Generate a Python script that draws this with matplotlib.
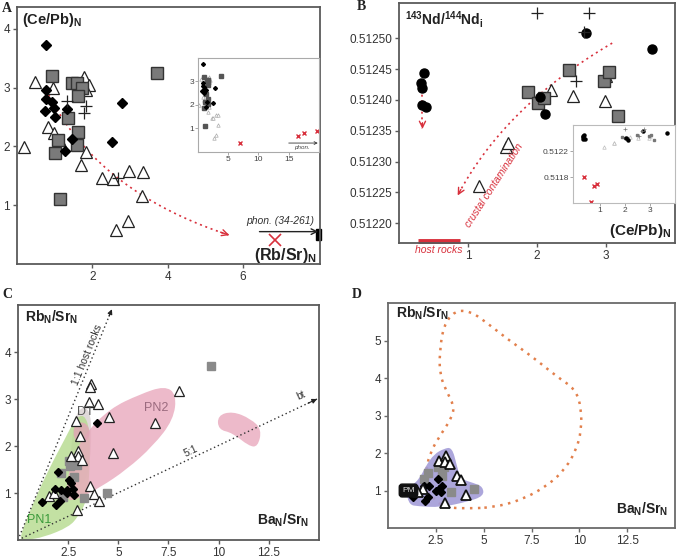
import matplotlib
matplotlib.use('Agg')
import matplotlib.pyplot as plt
import numpy as np
from matplotlib.patches import PathPatch
from matplotlib.path import Path
import matplotlib.transforms as mtrans

plt.rcParams['font.family'] = ['Liberation Sans', 'DejaVu Sans']
plt.rcParams['mathtext.fontset'] = 'custom'
plt.rcParams['mathtext.rm'] = 'Liberation Sans'
plt.rcParams['mathtext.bf'] = 'Liberation Sans:bold'
plt.rcParams['mathtext.it'] = 'Liberation Sans:italic'

RED = '#d8303c'

# ---------------- Panel A data: (Rb/Sr)N vs (Ce/Pb)N ----------------
A_dia_x = [0.78, 0.78, 0.78, 0.92, 0.74, 0.98, 1.00, 1.32, 1.47, 1.27, 2.80, 2.52]
A_dia_y = [3.72, 2.95, 2.80, 2.75, 2.60, 2.65, 2.50, 2.64, 2.13, 1.92, 2.74, 2.07]
A_sq_x = [0.92, 1.45, 1.60, 1.72, 1.62, 1.35, 1.63, 1.09, 1.60, 1.00, 1.13, 3.73]
A_sq_y = [3.20, 3.08, 3.08, 2.99, 2.85, 2.48, 2.24, 2.11, 2.03, 1.89, 1.10, 3.25]
A_tri_x = [0.47, 0.18, 0.95, 0.83, 0.98, 1.11, 1.16, 1.78, 1.91, 1.82, 1.84, 1.69,
           2.25, 2.55, 2.98, 3.35, 3.32, 2.64, 2.95]
A_tri_y = [3.09, 1.99, 2.99, 2.33, 2.22, 2.11, 2.05, 3.18, 3.05, 2.96, 1.90, 1.68,
           1.46, 1.44, 1.58, 1.57, 1.16, 0.58, 0.73]
A_plus_x = [1.33, 1.84, 1.78, 2.69]
A_plus_y = [2.77, 2.68, 2.57, 1.46]
A_host_x = [6.84]
A_host_y = [0.41]
A_inset_host_x = [6.9, 16.6, 17.6, 19.6]
A_inset_host_y = [0.38, 0.67, 0.81, 0.90]
A_curve = [(0.84, 2.88), (2.16, 1.215), (5.64, 0.49)]   # start, control, end

# ---------------- Panel B data: (Ce/Pb)N vs 143Nd/144Nd_i ----------------
B_dia_x = [0.36, 0.32, 0.34, 0.33, 0.39, 2.05, 2.11, 2.71, 3.67]
B_dia_y = [0.512443, 0.512427, 0.512419, 0.512391, 0.512388, 0.512404, 0.512377,
           0.512509, 0.512482]
B_sq_x = [1.87, 2.02, 2.10, 2.47, 2.97, 3.05, 3.18]
B_sq_y = [0.512412, 0.512395, 0.512403, 0.512449, 0.512430, 0.512446, 0.512374]
B_tri_x = [1.16, 1.55, 1.58, 2.20, 2.52, 2.98, 3.00]
B_tri_y = [0.512260, 0.512323, 0.512330, 0.512416, 0.512407, 0.512398, 0.512439]
B_plus_x = [2.00, 2.76, 2.57, 2.68]
B_plus_y = [0.512541, 0.512541, 0.512430, 0.512510]
B_inset_host_x = [0.35, 0.77, 0.90, 0.63]
B_inset_host_y = [0.51180, 0.51166, 0.51170, 0.51142]
B_curve = [(3.09, 0.512492), (1.53, 0.5123895), (0.85, 0.512245)]
B_drop = [(0.34, 0.512418), (0.34, 0.512353)]
B_host_range = [0.27, 0.88]

# ---------------- Panel C data: BaN/SrN vs RbN/SrN ----------------
C_dia_x = [3.93, 1.99, 1.22, 1.87, 2.15, 2.45, 2.53, 2.65, 2.75, 2.81, 1.92, 2.09, 2.45]
C_dia_y = [2.49, 1.44, 0.80, 1.09, 1.07, 1.00, 1.28, 1.21, 1.09, 0.96, 0.75, 0.82, 1.06]
C_sq_x = [9.62, 2.53, 2.61, 2.94, 2.81, 2.12, 2.25, 3.31, 4.43]
C_sq_y = [3.71, 1.68, 1.57, 1.60, 1.34, 1.43, 0.91, 0.89, 1.01]
C_tri_x = [3.64, 3.60, 3.52, 3.97, 2.91, 4.56, 3.08, 2.98, 2.98, 2.65, 3.19, 4.72,
           6.82, 8.02, 3.57, 3.80, 4.02, 2.94, 1.54, 1.79]
C_tri_y = [3.33, 3.26, 2.94, 2.90, 2.53, 2.61, 2.22, 1.89, 1.78, 1.78, 1.71, 1.85,
           2.49, 3.17, 1.14, 0.98, 0.82, 0.64, 0.93, 1.00]
C_PN1 = [(0.02, 0.0), (0.75, 0.78), (1.55, 1.52), (2.40, 2.20), (2.85, 2.58), (3.30, 2.68),
         (3.58, 2.35), (3.58, 1.55), (3.45, 0.85), (3.00, 0.50), (2.55, 0.28), (1.30, 0.06),
         (0.40, 0.0)]
C_DT = [(2.90, 2.70), (3.30, 2.85), (3.62, 2.70), (3.66, 2.21), (3.60, 1.71), (3.40, 1.28),
        (2.86, 1.07), (2.53, 1.21), (2.62, 1.85), (2.75, 2.35)]
C_PN2 = [(2.37, 0.85), (2.55, 1.57), (3.30, 2.25), (4.59, 2.80), (6.07, 3.10), (7.31, 3.28),
         (7.90, 3.10), (7.75, 2.56), (6.73, 2.00), (5.42, 1.50), (4.10, 1.12), (2.90, 0.85)]
C_blob = [(9.95, 2.65), (10.69, 2.74), (11.6, 2.58), (12.15, 2.35), (11.95, 1.98),
          (11.5, 2.0), (10.69, 2.28), (9.98, 2.35)]
C_small = [(2.72, 2.29), (2.90, 2.50), (3.40, 2.50), (3.62, 2.29), (3.40, 2.08), (2.90, 2.08)]
C_line11 = [(0.0, 0.0), (4.68, 4.91)]
C_line51 = [(0.0, 0.0), (14.9, 3.0)]

# ---------------- Panel D data ----------------
D_tri_x = [2.98, 2.67, 3.02, 2.97, 3.22, 3.62, 3.79, 4.05, 1.81, 1.55]
D_tri_y = [0.67, 1.80, 1.93, 1.77, 1.71, 1.40, 1.27, 0.87, 1.04, 0.96]
D_sq_x = [2.10, 2.59, 2.93, 2.84, 3.31, 4.48, 1.90]
D_sq_y = [1.47, 1.62, 1.62, 1.40, 0.96, 1.04, 1.31]
D_dia_x = [1.29, 1.90, 2.16, 2.59, 2.67, 2.50, 2.84, 2.76, 2.07, 1.93]
D_dia_y = [0.82, 1.13, 1.12, 1.31, 1.04, 1.00, 1.13, 0.96, 0.82, 0.73]
D_field = [(4.14, 0.52), (2.93, 0.55), (2.20, 0.85), (1.95, 1.40), (2.16, 1.98), (2.76, 2.50),
           (3.35, 2.95), (3.45, 3.26), (3.05, 3.65), (2.70, 4.10), (2.70, 4.70), (2.90, 5.40),
           (3.50, 5.80), (4.30, 5.78), (5.10, 5.50), (6.21, 5.05), (7.59, 4.55), (8.79, 4.05),
           (9.80, 3.70), (10.10, 3.20), (10.10, 2.60), (9.85, 2.10), (9.30, 1.60), (8.40, 1.15),
           (7.00, 0.75), (5.52, 0.55)]
D_purple = [(0.95, 0.95), (1.12, 0.62), (1.55, 0.58), (2.76, 0.55), (4.14, 0.70), (5.00, 0.85),
            (4.96, 1.10), (4.48, 1.20), (3.79, 1.31), (3.60, 1.66), (3.35, 2.15), (2.93, 2.12),
            (2.41, 1.97), (1.98, 1.66), (1.64, 1.31), (1.21, 1.12)]
D_PM = (1.07, 1.0)


def style(ax, lc='#5a5a5a'):
    for s in ax.spines.values():
        s.set_color(lc)
        s.set_linewidth(1.3)
    ax.tick_params(direction='out', length=3, width=1, color=lc, labelsize=8.5,
                   labelcolor='#333333', pad=2)


def smooth_path(pts):
    pts = np.asarray(pts, float)
    mids = (pts + np.roll(pts, -1, axis=0)) / 2
    verts = [mids[-1]]
    codes = [Path.MOVETO]
    for i in range(len(pts)):
        verts += [pts[i], mids[i]]
        codes += [Path.CURVE3, Path.CURVE3]
    return Path(verts, codes)


def bez(p, n=60):
    t = np.linspace(0, 1, n)[:, None]
    p0, c, p2 = (np.array(q) for q in p)
    return (1 - t) ** 2 * p0 + 2 * t * (1 - t) * c + t ** 2 * p2


def red_arrow(ax, pts):
    pts = np.asarray(pts)
    ax.plot(pts[:, 0], pts[:, 1], ls=(0, (1.2, 2.2)), color=RED, lw=1.2)
    ax.annotate('', xy=pts[-1], xytext=pts[-3],
                arrowprops=dict(arrowstyle='->', color=RED, lw=1.0, mutation_scale=11,
                                shrinkA=0, shrinkB=0))


fig = plt.figure(figsize=(6.78, 5.6), dpi=100)

# =================== Panel A ===================
axA = fig.add_axes([0.0251, 0.5286, 0.447, 0.459])
style(axA)
axA.set_xlim(0, 8.05)
axA.set_ylim(0, 4.37)
axA.set_xticks([2, 4, 6])
axA.set_yticks([1, 2, 3, 4])
red_arrow(axA, bez(A_curve))
axA.plot(A_tri_x, A_tri_y, '^', ms=8, mfc='white', mec='#222222', mew=0.9, ls='none')
axA.plot(A_sq_x, A_sq_y, 's', ms=8.5, mfc='#7a7a7a', mec='#333333', mew=1.0, ls='none')
axA.plot(A_dia_x, A_dia_y, 'D', ms=5.5, mfc='black', mec='black', ls='none')
axA.plot(A_plus_x, A_plus_y, '+', ms=9, mew=0.9, color='#222222', ls='none')
axA.plot(A_host_x, A_host_y, 'x', ms=9, mew=1.2, color=RED, ls='none')
axA.annotate('', xy=(8.0, 0.55), xytext=(6.44, 0.55),
             arrowprops=dict(arrowstyle='->', color='#222222', lw=1.0, shrinkA=0, shrinkB=0))
axA.add_patch(plt.Rectangle((7.93, 0.41), 0.14, 0.19, color='black', clip_on=False))
axA.text(7.9, 0.73, 'phon. (34-261)', style='italic', fontsize=7.5, ha='right',
         va='center', color='#333333')
axA.text(7.95, 0.15, r'(Rb/Sr)$_\mathbf{N}$', fontsize=11.5, fontweight='bold', ha='right',
         va='center', color='#222222')
axA.text(0.13, 4.14, r'(Ce/Pb)$_\mathbf{N}$', fontsize=10.5, fontweight='bold', ha='left',
         va='center', color='#222222')

# inset A
axAi = fig.add_axes([0.292, 0.7286, 0.1785, 0.168])
for s in axAi.spines.values():
    s.set_color('#aaaaaa')
    s.set_linewidth(0.8)
axAi.tick_params(direction='out', length=2, width=0.6, color='#999999', labelsize=6,
                 labelcolor='#444444', pad=1)
axAi.set_xlim(0, 20)
axAi.set_ylim(0, 4)
axAi.set_xticks([5, 10, 15])
axAi.set_yticks([1, 2, 3])
axAi.plot(A_tri_x, A_tri_y, '^', ms=2.5, mfc='white', mec='#aaaaaa', mew=0.5, ls='none')
axAi.plot(A_sq_x, A_sq_y, 's', ms=2.2, mfc='#555555', mec='#555555', ls='none')
axAi.plot(A_dia_x, A_dia_y, 'D', ms=2, mfc='black', mec='black', ls='none')
axAi.plot(A_inset_host_x, A_inset_host_y, 'x', ms=3.5, mew=1.0, color=RED, ls='none')
axAi.annotate('', xy=(19.8, 0.38), xytext=(15.0, 0.38),
              arrowprops=dict(arrowstyle='->', color='#333333', lw=0.6, mutation_scale=5,
                              shrinkA=0, shrinkB=0))
axAi.text(17.2, 0.2, 'phon.', style='italic', fontsize=4.5, ha='center', va='center',
          color='#444444')

# =================== Panel B ===================
axB = fig.add_axes([0.5885, 0.566, 0.407, 0.4286])
style(axB)
axB.set_xlim(0, 4)
axB.set_ylim(0.512168, 0.512557)
axB.set_xticks([1, 2, 3])
axB.set_yticks([0.51220, 0.51225, 0.51230, 0.51235, 0.51240, 0.51245, 0.51250])
axB.set_yticklabels(['0.51220', '0.51225', '0.51230', '0.51235', '0.51240', '0.51245',
                     '0.51250'])
red_arrow(axB, bez(B_curve))
dx = np.array(B_drop)
axB.plot(dx[:, 0], dx[:, 1], ls=(0, (1.2, 2.2)), color=RED, lw=1.2)
axB.annotate('', xy=B_drop[1], xytext=(B_drop[1][0], B_drop[1][1] + 0.00001),
             arrowprops=dict(arrowstyle='->', color=RED, lw=1.0, mutation_scale=11,
                             shrinkA=0, shrinkB=0))
axB.plot(B_tri_x, B_tri_y, '^', ms=8, mfc='white', mec='#222222', mew=0.9, ls='none')
axB.plot(B_sq_x, B_sq_y, 's', ms=8.5, mfc='#7a7a7a', mec='#333333', mew=1.0, ls='none')
axB.plot(B_dia_x, B_dia_y, 'o', ms=6.5, mfc='black', mec='black', ls='none')
axB.plot(B_plus_x, B_plus_y, '+', ms=9, mew=0.9, color='#222222', ls='none', clip_on=False)
tB = mtrans.blended_transform_factory(axB.transData, axB.transAxes)
axB.plot(B_host_range, [0.008, 0.008], color=RED, lw=3.5, transform=tB, clip_on=False,
         solid_capstyle='butt')
axB.text(np.mean(B_host_range), -0.028, 'host rocks', transform=tB, color=RED,
         style='italic', fontsize=7.5, ha='center', va='center')
axB.text(1.38, 0.512262, 'crustal contamination', color=RED, style='italic', fontsize=7.5,
         rotation=57, ha='center', va='center')
axB.text(0.08, 0.51253, r'$^{\mathbf{143}}$Nd/$^{\mathbf{144}}$Nd$_\mathbf{i}$',
         fontsize=10, fontweight='bold', ha='left', va='center', color='#222222')
axB.text(3.95, 0.512187, r'(Ce/Pb)$_\mathbf{N}$', fontsize=11, fontweight='bold',
         ha='right', va='center', color='#222222')

# inset B
axBi = fig.add_axes([0.845, 0.6375, 0.1504, 0.139])
for s in axBi.spines.values():
    s.set_color('#bbbbbb')
    s.set_linewidth(0.8)
axBi.tick_params(direction='out', length=2, width=0.6, color='#999999', labelsize=6,
                 labelcolor='#444444', pad=1)
axBi.set_xlim(-0.08, 4)
axBi.set_ylim(0.5114, 0.5126)
axBi.set_xticks([1, 2, 3])
axBi.set_yticks([0.5118, 0.5122])
axBi.set_yticklabels(['0.5118', '0.5122'])
axBi.plot(B_tri_x, B_tri_y, '^', ms=2.5, mfc='white', mec='#bbbbbb', mew=0.5, ls='none')
axBi.plot(B_sq_x, B_sq_y, 's', ms=2, mfc='#777777', mec='#777777', ls='none')
axBi.plot(B_dia_x, B_dia_y, 'o', ms=2.2, mfc='black', mec='black', ls='none')
axBi.plot(B_plus_x, B_plus_y, '+', ms=3, mew=0.5, color='#777777', ls='none')
axBi.plot(B_inset_host_x, B_inset_host_y, 'x', ms=3, mew=1.0, color=RED, ls='none')

# =================== Panel C ===================
axC = fig.add_axes([0.0265, 0.0357, 0.444, 0.4196])
style(axC)
axC.set_xlim(0, 15)
axC.set_ylim(0, 5)
axC.set_xticks([2.5, 5, 7.5, 10, 12.5])
axC.set_xticklabels(['2.5', '5', '7.5', '10', '12.5'])
axC.set_yticks([1, 2, 3, 4])
axC.add_patch(PathPatch(smooth_path(C_DT), fc='#ddd6d6', ec='none', alpha=0.9))
axC.add_patch(PathPatch(smooth_path(C_PN1), fc='#b9dc93', ec='none', alpha=0.85))
axC.add_patch(PathPatch(smooth_path(C_PN2), fc='#e9a9bd', ec='none', alpha=0.8))
axC.add_patch(PathPatch(smooth_path(C_blob), fc='#e9a9bd', ec='none', alpha=0.8))
axC.add_patch(PathPatch(smooth_path(C_small), fc='#e2a3b5', ec='none', alpha=0.8))
for ln in (C_line11, C_line51):
    ln = np.array(ln)
    axC.plot(ln[:, 0], ln[:, 1], ls=(0, (1, 2)), color='#333333', lw=1.0)
    d = ln[1] - ln[0]
    axC.annotate('', xy=ln[1], xytext=ln[1] - 0.03 * d,
                 arrowprops=dict(arrowstyle='-|>', color='#222222', lw=0.8, mutation_scale=7,
                                 shrinkA=0, shrinkB=0))
axC.text(3.45, 3.95, '1:1 host rocks', rotation=68, fontsize=7.5, ha='center', va='center',
         color='#333333')
axC.text(8.6, 1.88, '5:1', rotation=25, fontsize=7.5, ha='center', va='center',
         color='#333333')
axC.text(14.1, 3.07, 'bt', rotation=25, fontsize=7.5, ha='center', va='center',
         color='#333333')
axC.text(3.36, 2.72, 'DT', fontsize=9, ha='center', va='center', color='#555555')
axC.text(6.9, 2.81, 'PN2', fontsize=9, ha='center', va='center', color='#9a6a7e')
axC.text(1.05, 0.43, 'PN1', fontsize=9, ha='center', va='center', color='#3a9a3a')
axC.plot(C_sq_x, C_sq_y, 's', ms=6, mfc='#8a8a8a', mec='#8a8a8a', ls='none')
axC.plot(C_tri_x, C_tri_y, '^', ms=7.5, mfc='white', mec='#222222', mew=0.9, ls='none')
axC.plot(C_dia_x, C_dia_y, 'D', ms=4.5, mfc='black', mec='black', ls='none')
axC.text(0.37, 4.73, r'Rb$_\mathbf{N}$/Sr$_\mathbf{N}$', fontsize=10, fontweight='bold',
         ha='left', va='center', color='#222222')
axC.text(14.5, 0.42, r'Ba$_\mathbf{N}$/Sr$_\mathbf{N}$', fontsize=10, fontweight='bold',
         ha='right', va='center', color='#222222')

# =================== Panel D ===================
axD = fig.add_axes([0.5723, 0.0571, 0.4233, 0.4018])
style(axD, '#6a6a6a')
axD.set_xlim(0, 15)
axD.set_ylim(0, 6)
axD.set_xticks([2.5, 5, 7.5, 10, 12.5])
axD.set_xticklabels(['2.5', '5', '7.5', '10', '12.5'])
axD.set_yticks([1, 2, 3, 4, 5])
axD.add_patch(PathPatch(smooth_path(D_field), fill=False, ec='#e2804c', lw=1.8,
                        ls=(0, (1, 2.2))))
axD.add_patch(PathPatch(smooth_path(D_purple), fc='#a39cd8', ec='none', alpha=0.9))
axD.plot(D_sq_x, D_sq_y, 's', ms=6, mfc='#8a8a8a', mec='#8a8a8a', ls='none')
axD.plot(D_dia_x, D_dia_y, 'D', ms=4.5, mfc='black', mec='black', ls='none')
axD.plot(D_tri_x, D_tri_y, '^', ms=7.5, mfc='white', mec='#111111', mew=1.3, ls='none')
axD.text(D_PM[0], D_PM[1], 'PM', fontsize=6, color='#dddddd', ha='center', va='center',
         bbox=dict(boxstyle='round,pad=0.35', fc='#111111', ec='#111111'))
axD.text(0.43, 5.73, r'Rb$_\mathbf{N}$/Sr$_\mathbf{N}$', fontsize=10, fontweight='bold',
         ha='left', va='center', color='#222222')
axD.text(14.66, 0.51, r'Ba$_\mathbf{N}$/Sr$_\mathbf{N}$', fontsize=10, fontweight='bold',
         ha='right', va='center', color='#222222')

# panel letters
for lbl, x, y in [('A', 7, 551), ('B', 361, 553), ('C', 7, 266), ('D', 357, 265)]:
    fig.text(x / 678, y / 560, lbl, fontsize=10, fontweight='bold',
             family='Liberation Serif', ha='center', va='center', color='#222222')

fig.savefig('out.png', dpi=100)
